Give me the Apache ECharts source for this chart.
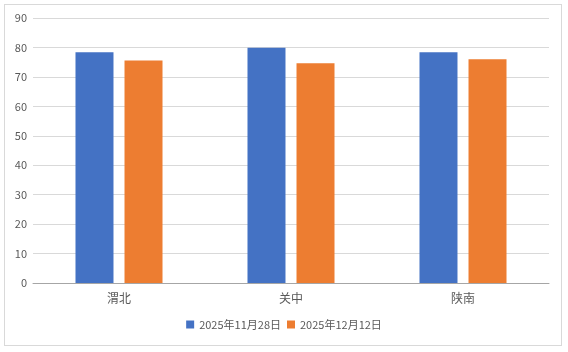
<!DOCTYPE html>
<html>
<head>
<meta charset="utf-8">
<script src="https://cdn.jsdelivr.net/npm/echarts@6/dist/echarts.min.js"></script>
<style>
  html, body { margin: 0; padding: 0; background: #fff; }
  #frame { position: absolute; left: 4px; top: 4px; width: 558px; height: 342px; border: 1px solid #d9d9d9; box-sizing: border-box; }
  #chart { position: absolute; left: 0; top: 0; width: 568px; height: 352px; }
</style>
</head>
<body>
<div id="frame"></div>
<div id="chart"></div>
<script>
const categories = ["渭北", "关中", "陕南"];
const seriesNames = ["2025年11月28日", "2025年12月12日"];
const valuesNov28 = [78.4, 79.9, 78.4];
const valuesDec12 = [75.6, 74.6, 76.0];

const chart = echarts.init(document.getElementById("chart"));
const font = "'Noto Sans CJK SC', 'Noto Sans', sans-serif";

chart.setOption({
  animation: false,
  textStyle: { fontFamily: font },
  color: ["#4472c4", "#ed7d31"],
  grid: { left: 33, right: 19, top: 18, bottom: 69 },
  legend: {
    bottom: 17,
    left: "center",
    itemWidth: 8,
    itemHeight: 8,
    itemGap: 6,
    icon: "rect",
    textStyle: { color: "#595959", fontSize: 11, fontFamily: font },
    data: seriesNames
  },
  xAxis: {
    type: "category",
    data: categories,
    axisLine: { lineStyle: { color: "#a6a6a6" } },
    axisTick: { show: false },
    axisLabel: { color: "#595959", fontSize: 12, margin: 9 }
  },
  yAxis: {
    type: "value",
    min: 0,
    max: 90,
    interval: 10,
    axisLine: { show: false },
    axisTick: { show: false },
    axisLabel: { color: "#595959", fontSize: 11, margin: 6 },
    splitLine: { lineStyle: { color: "#d9d9d9" } }
  },
  series: [
    {
      name: seriesNames[0],
      type: "bar",
      data: valuesNov28,
      barWidth: 38,
      barGap: "29%"
    },
    {
      name: seriesNames[1],
      type: "bar",
      data: valuesDec12,
      barWidth: 38,
      barGap: "29%"
    }
  ]
});
</script>
</body>
</html>
